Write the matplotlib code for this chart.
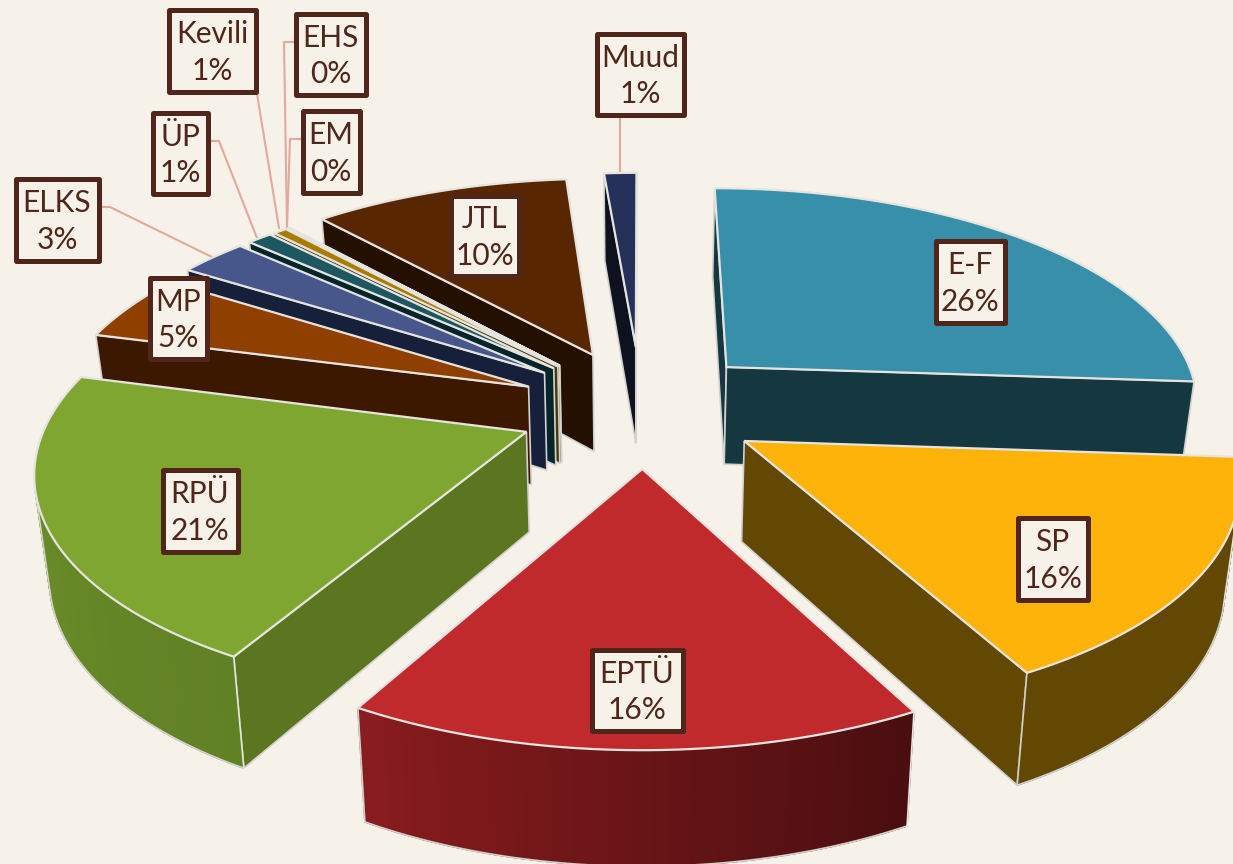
import numpy as np
import matplotlib
matplotlib.use("Agg")
import matplotlib.pyplot as plt
from matplotlib.colors import to_rgb
from matplotlib.patches import Polygon, Rectangle

plt.rcParams['font.family'] = ['Lato', 'DejaVu Sans']

names = ['E-F', 'SP', 'EPTÜ', 'RPÜ', 'MP', 'ELKS', 'ÜP', 'Kevili', 'EHS', 'EM', 'JTL', 'Muud']
shares = [26.1, 16.1, 16.0, 20.9, 4.9, 2.75, 1.0, 0.55, 0.05, 0.05, 10.3, 1.3]
labels = ['26%', '16%', '16%', '21%', '5%', '3%', '1%', '1%', '0%', '0%', '10%', '1%']

top_colors = ['#378fa9', '#fdb309', '#c02a2d', '#80a632', '#8f3f00', '#47578c',
              '#1d5762', '#a97c00', '#6b5200', '#6b5200', '#582600', '#26315a']
# outer wall colour at the right and at the left end of each slice
wall_right = ['#15373f', '#624802', '#4a0e10', '#618125', '#3d1800', '#17203a',
              '#04252b', '#4a3a05', '#3a2c05', '#3a2c05', '#241000', '#0e1220']
wall_left = ['#15373f', '#624802', '#8a1c1e', '#6e9229', '#3d1800', '#17203a',
             '#04252b', '#4a3a05', '#3a2c05', '#3a2c05', '#241000', '#0e1220']
side_colors = ['#15373f', '#624802', '#6b1a1c', '#5c7520', '#3d1800', '#17203a',
               '#04252b', '#4a3a05', '#3a2c05', '#3a2c05', '#241000', '#0e1220']
explode = [0.27, 0.265, 0.278, 0.255, 0.25, 0.25, 0.25, 0.25, 0.25, 0.25, 0.26, 0.278]
# small shift of each slice in pixels, the original is not quite regular
nudge = [(-2, 1), (-1, 4), (7, 1), (3, 5), (-1, 3), (0, 0),
         (0, 0), (0, 0), (0, 0), (0, 0), (3, 0), (4, 0)]

# label boxes, left, top, right, bottom in pixels
boxes = {'E-F': (933, 238, 1007, 325), 'SP': (1015, 515, 1090, 602),
         'EPTÜ': (589, 647, 685, 733), 'RPÜ': (160, 467, 240, 554),
         'MP': (147, 275, 209, 361), 'ELKS': (13, 176, 101, 263),
         'ÜP': (150, 110, 210, 196), 'Kevili': (166, 7, 258, 94),
         'EHS': (293, 11, 368, 97), 'EM': (300, 108, 362, 195),
         'JTL': (448, 193, 521, 278), 'Muud': (594, 31, 686, 117)}

leaders = {'ELKS': [(101, 207), (110, 207), (212, 257)],
           'ÜP': [(210, 141), (219, 141), (257, 238)],
           'Kevili': [(257, 94), (279, 228)],
           'EHS': [(293, 42), (284, 42), (287, 228)],
           'EM': [(300, 139), (290, 139), (287, 228)],
           'Muud': [(620, 117), (620, 175)]}

bg = '#f6f1e9'
brown = '#4f2619'
cx, cy = 637, 405
rx, ry, persp = 476, 217, 0.152


def project(u, v, shift):
    f = 1 / (1 + persp * v)
    return cx + rx * u * f + shift[0], cy - ry * v * f + shift[1]


def drop(x, y):
    # top face point to the matching point on the bottom face
    return cx + (x - cx) * 0.975, y + 88 + 0.05 * (y - 187)


def faces_viewer(p, q):
    quad = [p, q, drop(*q), drop(*p)]
    area = 0
    for (x0, y0), (x1, y1) in zip(quad, quad[1:] + quad[:1]):
        area += x0 * y1 - x1 * y0
    return area < 0


fig = plt.figure(figsize=(12.33, 8.64), dpi=100, facecolor=bg)
ax = fig.add_axes([0, 0, 1, 1])
ax.set_xlim(0, 1233)
ax.set_ylim(864, 0)
ax.axis('off')

for n, pts in leaders.items():
    ax.plot(*zip(*pts), color='#e3a99a', lw=1.5, zorder=1)

edges = np.cumsum([0] + shares) / sum(shares) * 2 * np.pi
slices = []
for i in range(len(names)):
    a0, a1 = edges[i], edges[i + 1]
    slices.append((np.cos((a0 + a1) / 2), i, a0, a1))

z = 2
for _, i, a0, a1 in sorted(slices, key=lambda s: -s[0]):
    mid = (a0 + a1) / 2
    ox, oy = explode[i] * np.sin(mid), explode[i] * np.cos(mid)
    t = np.linspace(a0, a1, max(int((a1 - a0) * 60), 3))
    arc = [project(ox + np.sin(a), oy + np.cos(a), nudge[i]) for a in t]
    apex = project(ox, oy, nudge[i])

    # radial walls
    for p, q in [(apex, arc[0]), (arc[-1], apex)]:
        if faces_viewer(p, q):
            ax.add_patch(Polygon([p, q, drop(*q), drop(*p)], closed=True, fc=side_colors[i],
                                 ec='#d4d2ce', lw=1.2, zorder=z))
            z += 1

    # outer wall, cut into strips for the shading
    c_right, c_left = np.array(to_rgb(wall_right[i])), np.array(to_rgb(wall_left[i]))
    seen = []
    for k in range(len(t) - 1):
        if not faces_viewer(arc[k], arc[k + 1]):
            continue
        col = c_right + (c_left - c_right) * k / (len(t) - 1)
        ax.add_patch(Polygon([arc[k], arc[k + 1], drop(*arc[k + 1]), drop(*arc[k])],
                             closed=True, fc=col, ec=col, lw=1.0, zorder=z))
        seen += [arc[k], arc[k + 1]]
    z += 1
    if seen:
        low = [drop(*p) for p in seen]
        ax.plot(*zip(*low), color='#d4d2ce', lw=1.2, zorder=z)
        ax.plot(*zip(seen[0], low[0]), color='#e8e6e2', lw=1.2, zorder=z)
        ax.plot(*zip(seen[-1], low[-1]), color='#d4d2ce', lw=1.2, zorder=z)
    z += 1
    ax.add_patch(Polygon([apex] + arc, closed=True, fc=top_colors[i], ec='#e6e4e0',
                         lw=1.6, joinstyle='miter', zorder=z))
    z += 1

for name, lab in zip(names, labels):
    x0, y0, x1, y1 = boxes[name]
    ax.add_patch(Rectangle((x0 + 2.5, y0 + 2.5), x1 - x0 - 5, y1 - y0 - 5, fc=bg, ec=brown,
                           lw=3.6, joinstyle='round', zorder=z))
    ax.text((x0 + x1) / 2, (y0 + y1) / 2 + 2, name + '\n' + lab, ha='center', va='center',
            color=brown, fontsize=21.5, linespacing=1.38, zorder=z + 1)

fig.savefig('out.png', dpi=100, facecolor=bg)
